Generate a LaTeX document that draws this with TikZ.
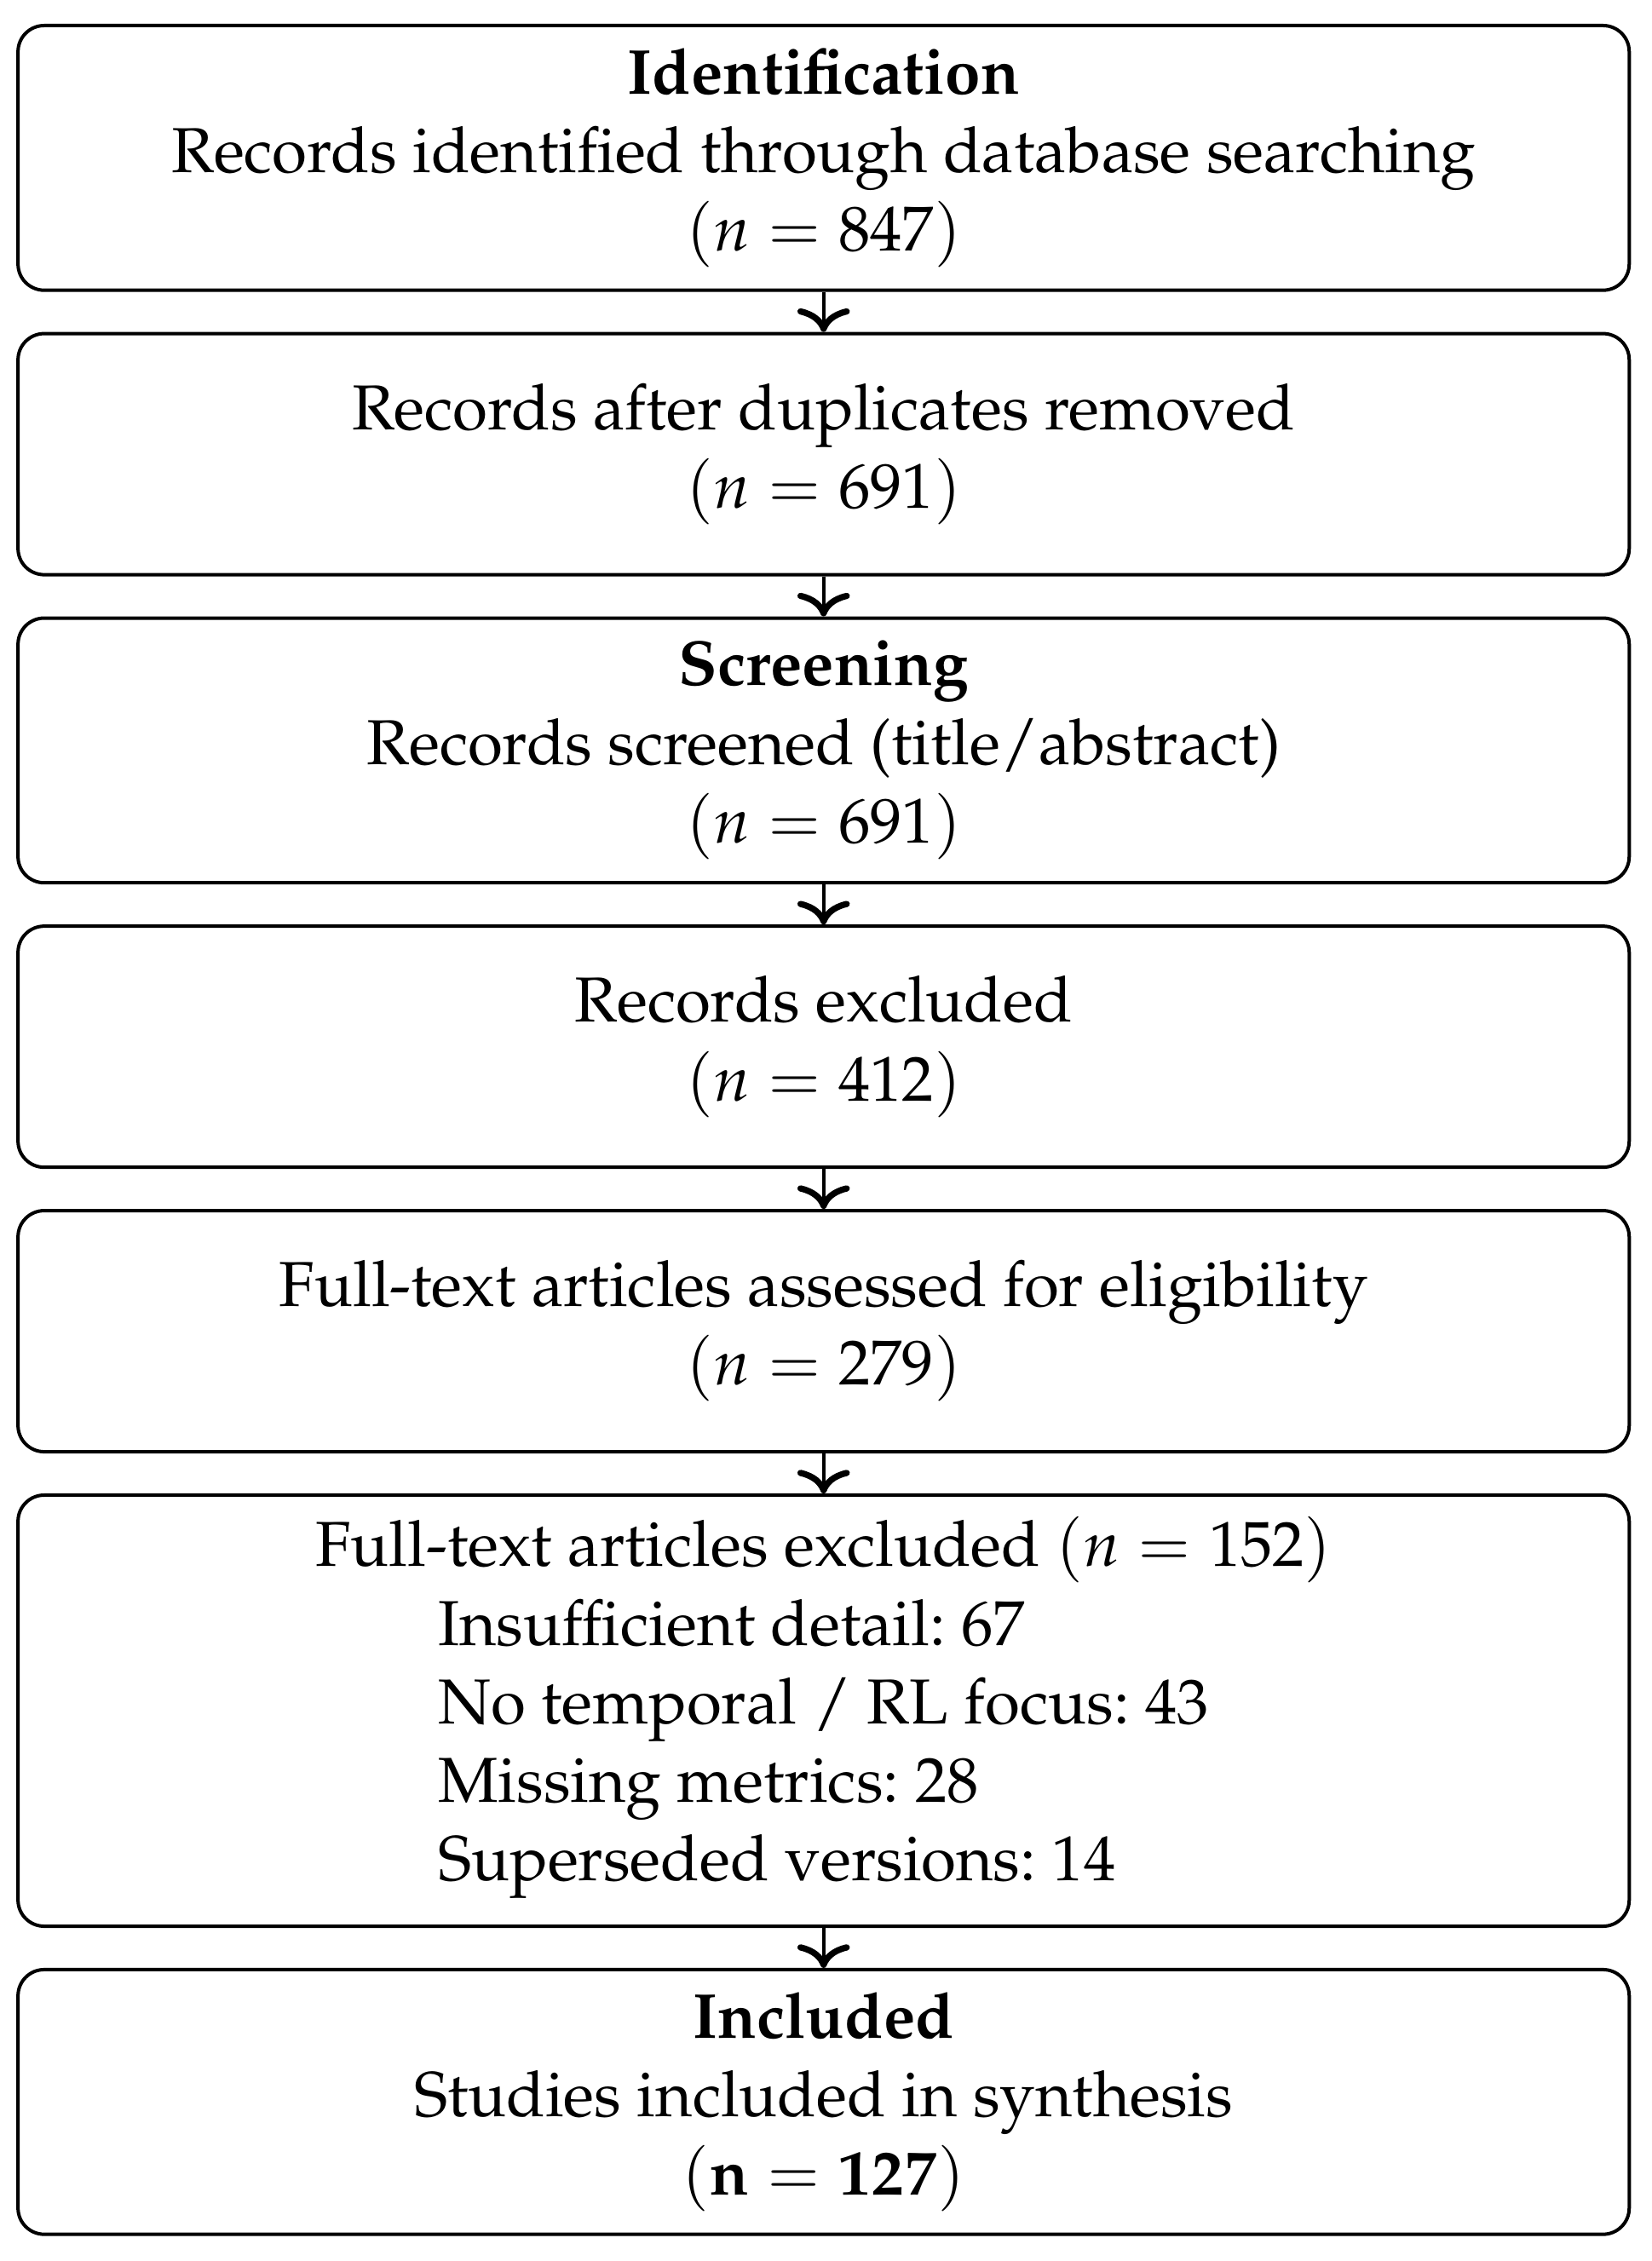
\documentclass[tikz,border=0pt]{standalone}
\usepackage[T1]{fontenc}
\usepackage{mathpazo}
\usepackage{tikz}
\usetikzlibrary{arrows.meta,positioning}
\frenchspacing

\begin{document}
\begin{tikzpicture}
[font=\fontsize{9.7}{12}\selectfont,node distance=6.1pt,
      stage/.style={draw,line width=0.52pt,rounded corners=4pt,align=flush center,
      text width=239pt,minimum width=245.9pt,inner xsep=3pt,inner ysep=2pt},
      tall/.style={stage,minimum height=40.4pt},
      short/.style={stage,minimum height=36.8pt},
      flow/.style={line width=0.52pt,-{To[width=8pt,length=3.6pt,line width=0.95pt]}}]
 \useasboundingbox (0,0) rectangle (252pt,-345.1pt);
 \node[tall,anchor=north] (ident) at (125.7pt,-3.64pt)
  {\textbf{Identification}\\ Records identified through database searching\\ $(n=847)$};
 \node[short,below=of ident] (dedup)
  {Records after duplicates removed\\ $(n=691)$};
 \node[tall,below=of dedup] (screen)
  {\textbf{Screening}\\ Records screened (title/abstract)\\ $(n=691)$};
 \node[short,below=of screen] (excl)
  {Records excluded\\ $(n=412)$};
 \node[short,below=of excl] (full)
  {Full-text articles assessed for eligibility\\ $(n=279)$};
 \node[stage,minimum height=65.8pt,below=of full] (fullexcl)
  {Full-text articles excluded $(n=152)$\\
   \begin{tabular}[t]{@{}l@{}}
    Insufficient detail: 67\\
    No temporal / RL focus: 43\\
    Missing metrics: 28\\
    Superseded versions: 14
   \end{tabular}};
 \node[tall,below=of fullexcl] (incl)
  {\textbf{Included}\\ Studies included in synthesis\\ $(\mathbf{n}=\mathbf{127})$};
 \foreach \a/\b in {ident/dedup,dedup/screen,screen/excl,excl/full,full/fullexcl,fullexcl/incl}
  \draw[flow] (\a) -- (\b);
\end{tikzpicture}
\end{document}
